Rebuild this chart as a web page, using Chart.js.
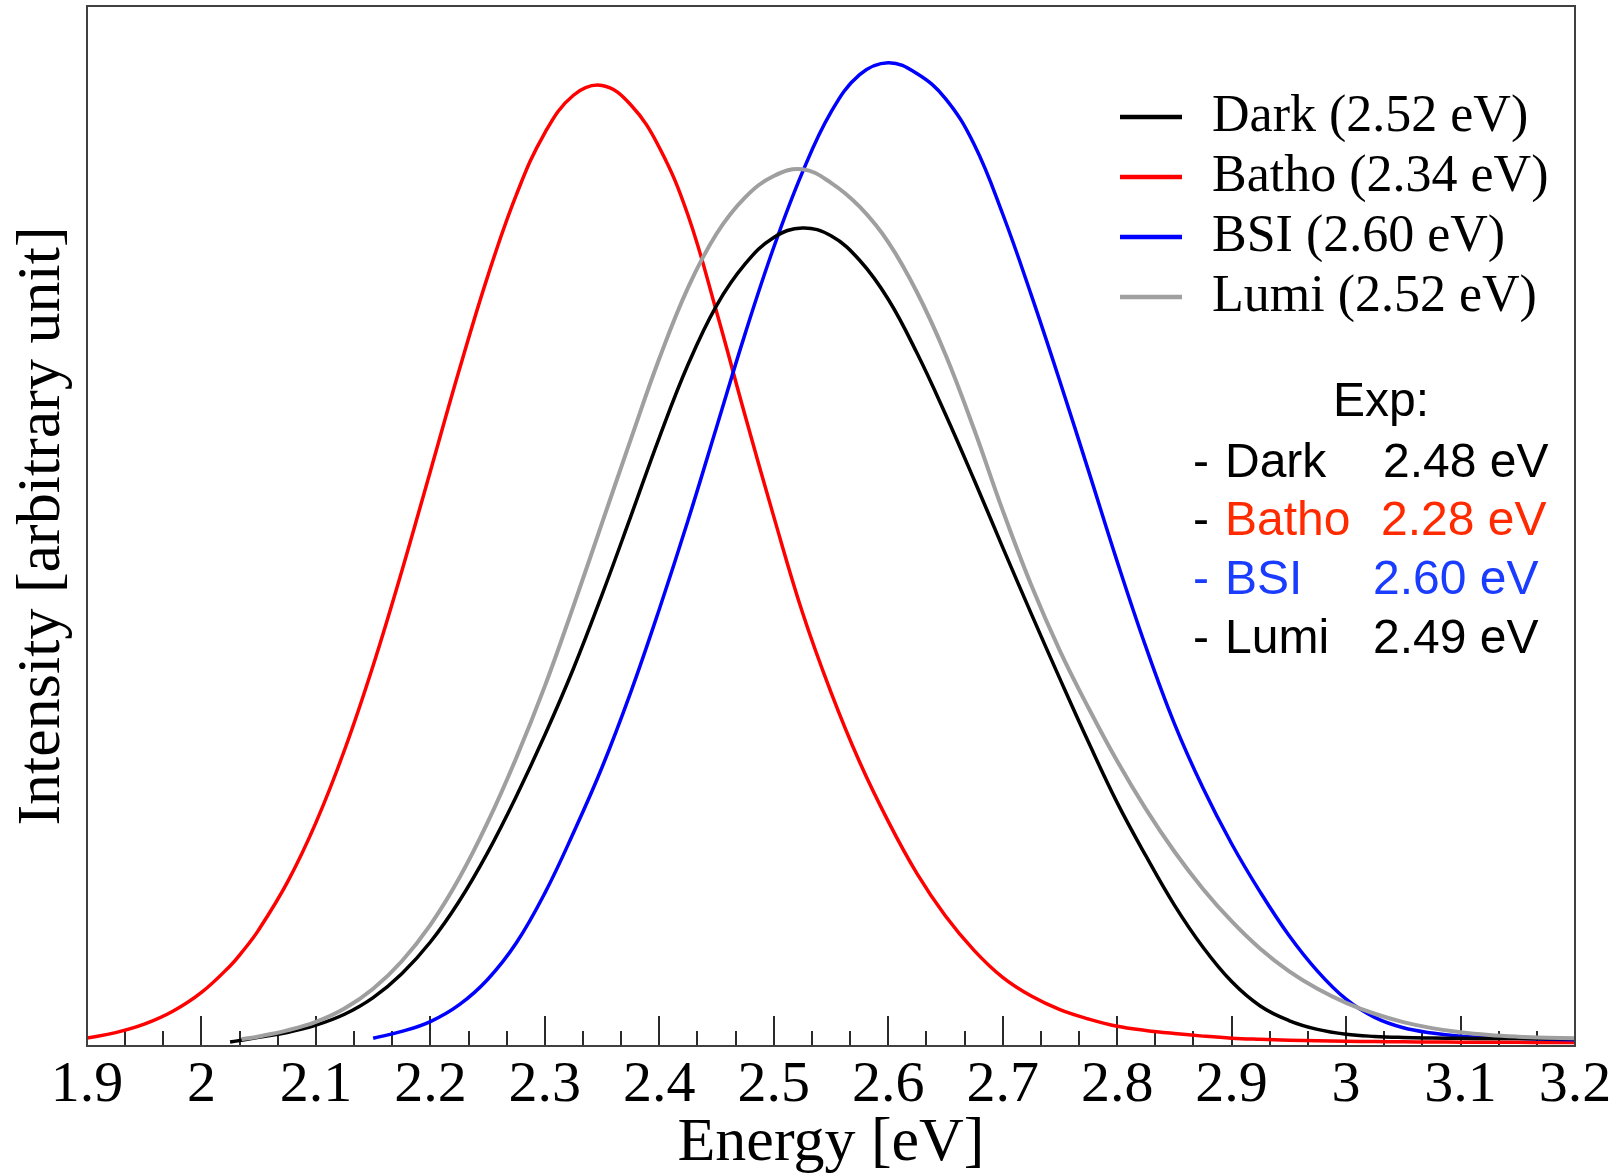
<!DOCTYPE html>
<html>
<head>
<meta charset="utf-8">
<script src="https://cdn.jsdelivr.net/npm/chart.js@4/dist/chart.umd.min.js"></script>
<style>
  html, body { margin: 0; padding: 0; background: #ffffff; }
  #c { display: block; }
</style>
</head>
<body>
<canvas id="c" width="1624" height="1175"></canvas>
<script>
// Photon energy grid (eV) shared by all four spectra
const energy = [
  1.900, 1.925, 1.950, 1.975, 2.000, 2.025, 2.035, 2.050, 2.075, 2.100,
  2.125, 2.150, 2.175, 2.200, 2.225, 2.250, 2.275, 2.300, 2.325, 2.350,
  2.375, 2.400, 2.425, 2.450, 2.475, 2.500, 2.525, 2.550, 2.575, 2.600,
  2.625, 2.650, 2.675, 2.700, 2.725, 2.750, 2.775, 2.800, 2.825, 2.850,
  2.875, 2.900, 2.925, 2.950, 2.975, 3.000, 3.025, 3.050, 3.075, 3.100,
  3.125, 3.150, 3.175, 3.200
];

// Simulated absorption intensities (arbitrary units); null = outside computed range
const dark = [
  null,   null,   null,   null,   null,   0.0038, 0.0056, 0.0085, 0.0130, 0.0200,
  0.0305, 0.0465, 0.0695, 0.1000, 0.1390, 0.1860, 0.2400, 0.2990, 0.3630, 0.4340,
  0.5090, 0.5850, 0.6550, 0.7120, 0.7520, 0.7775, 0.7865, 0.7790, 0.7555, 0.7180,
  0.6665, 0.6075, 0.5445, 0.4795, 0.4155, 0.3530, 0.2920, 0.2340, 0.1830, 0.1355,
  0.0950, 0.0620, 0.0385, 0.0245, 0.0160, 0.0113, 0.0092, 0.0082, 0.0077, 0.0074,
  0.0072, 0.0071, 0.0070, 0.0070
];

const batho = [
  0.0076, 0.0129, 0.0210, 0.0334, 0.0515, 0.0770, 0.0897, 0.1117, 0.1573, 0.2148,
  0.2846, 0.3659, 0.4565, 0.5527, 0.6492, 0.7398, 0.8182, 0.8781, 0.9142, 0.9236,
  0.9050, 0.8640, 0.7990, 0.7060, 0.6060, 0.5090, 0.4170, 0.3400, 0.2730, 0.2160,
  0.1660, 0.1250, 0.0920, 0.0660, 0.0480, 0.0350, 0.0260, 0.0190, 0.0150, 0.0120,
  0.0095, 0.0075, 0.0064, 0.0056, 0.0050, 0.0046, 0.0043, 0.0040, 0.0038, 0.0037,
  0.0036, 0.0035, 0.0034, 0.0034
];

const bsi = [
  null,   null,   null,   null,   null,   null,   null,   null,   null,   null,
  null,   0.0075, 0.0140, 0.0235, 0.0395, 0.0640, 0.0990, 0.1470, 0.2050, 0.2680,
  0.3400, 0.4200, 0.5050, 0.5950, 0.6850, 0.7680, 0.8400, 0.8980, 0.9340, 0.9455,
  0.9350, 0.9110, 0.8670, 0.8000, 0.7220, 0.6390, 0.5530, 0.4660, 0.3840, 0.3100,
  0.2480, 0.1945, 0.1480, 0.1065, 0.0720, 0.0450, 0.0275, 0.0175, 0.0125, 0.0095,
  0.0082, 0.0074, 0.0066, 0.0060
];

const lumi = [
  null,   null,   null,   null,   null,   null,   0.0065, 0.0092, 0.0150, 0.0232,
  0.0360, 0.0550, 0.0815, 0.1165, 0.1610, 0.2150, 0.2770, 0.3460, 0.4230, 0.5030,
  0.5830, 0.6610, 0.7290, 0.7810, 0.8160, 0.8365, 0.8430, 0.8300, 0.8070, 0.7730,
  0.7250, 0.6650, 0.5930, 0.5150, 0.4430, 0.3800, 0.3250, 0.2740, 0.2280, 0.1870,
  0.1510, 0.1200, 0.0935, 0.0720, 0.0550, 0.0415, 0.0310, 0.0230, 0.0172, 0.0132,
  0.0106, 0.0090, 0.0080, 0.0074
];

// Series names, computed peak positions and experimental values (eV)
const seriesNames = ['Dark', 'Batho', 'BSI', 'Lumi'];
const peakEnergy = ['2.52', '2.34', '2.60', '2.52'];
const expEnergy = ['2.48', '2.28', '2.60', '2.49'];

const SERIF = '"Liberation Serif", "Times New Roman", serif';
const SANS = '"Liberation Sans", Arial, sans-serif';

function toPoints(values) {
  const pts = [];
  values.forEach((v, i) => { if (v !== null) pts.push({ x: energy[i], y: v }); });
  return pts;
}

const styles = [
  { color: '#000000', key: '#000000', width: 3.5, order: 1 },
  { color: '#ff0000', key: '#ff0000', width: 3.5, order: 3 },
  { color: '#0000ff', key: '#0000ff', width: 3.5, order: 2 },
  { color: '#9f9f9f', key: '#a0a0a0', width: 4,   order: 0 }
];
const seriesValues = [dark, batho, bsi, lumi];

const datasets = seriesNames.map((name, i) => ({
  label: name + ' (' + peakEnergy[i] + ' eV)',
  data: toPoints(seriesValues[i]),
  borderColor: styles[i].color,
  keyColor: styles[i].key,
  borderWidth: styles[i].width,
  order: styles[i].order,
  fill: false,
  pointRadius: 0,
  tension: 0.4
}));

// Plot frame plus inward tick marks (major every 0.1 eV, two minors between)
const frameTicks = {
  id: 'frameTicks',
  beforeDatasetsDraw(chart) {
    const { ctx, chartArea: a, scales: { x } } = chart;
    ctx.save();
    ctx.strokeStyle = '#2a2a2a';
    ctx.lineWidth = 2;
    const n = Math.round((x.max - x.min) * 30);
    for (let k = 1; k < n; k++) {
      const px = Math.round(x.getPixelForValue(x.min + k / 30));
      const len = (k % 3 === 0) ? 30 : 15;
      ctx.beginPath();
      ctx.moveTo(px, a.bottom);
      ctx.lineTo(px, a.bottom - len);
      ctx.stroke();
    }
    ctx.restore();
  },
  afterDatasetsDraw(chart) {
    const { ctx, chartArea: a } = chart;
    ctx.save();
    ctx.strokeStyle = '#404040';
    ctx.lineWidth = 2;
    ctx.strokeRect(a.left, a.top, a.right - a.left, a.bottom - a.top);
    ctx.restore();
  }
};

// Series key and the experimental reference values
const keyAndNotes = {
  id: 'keyAndNotes',
  afterDraw(chart) {
    const ctx = chart.ctx;
    ctx.save();
    ctx.textBaseline = 'alphabetic';
    chart.data.datasets.forEach((ds, i) => {
      const y = 117 + i * 60;
      ctx.strokeStyle = ds.keyColor;
      ctx.lineWidth = 4.5;
      ctx.beginPath();
      ctx.moveTo(1120, y);
      ctx.lineTo(1182, y);
      ctx.stroke();
      ctx.fillStyle = '#000000';
      ctx.font = '52px ' + SERIF;
      ctx.fillText(ds.label, 1212, y + 14);
    });

    ctx.font = '48px ' + SANS;
    ctx.fillStyle = '#000000';
    ctx.fillText('Exp:', 1333, 416);
    const textColors = ['#000000', '#ff2a00', '#1a3cff', '#000000'];
    const dashColors = ['#000000', '#000000', '#1a3cff', '#000000'];
    const valueX = [1383, 1381, 1373, 1373];
    const rowY = [477, 535, 594, 653];
    seriesNames.forEach((name, i) => {
      ctx.fillStyle = dashColors[i];
      ctx.fillText('-', 1193, rowY[i]);
      ctx.fillStyle = textColors[i];
      ctx.fillText(name, 1225, rowY[i]);
      ctx.fillText(expEnergy[i] + ' eV', valueX[i], rowY[i]);
    });
    ctx.restore();
  }
};

new Chart(document.getElementById('c'), {
  type: 'line',
  data: { datasets },
  plugins: [frameTicks, keyAndNotes],
  options: {
    responsive: false,
    animation: false,
    devicePixelRatio: 1,
    layout: { padding: { top: 6, right: 49, left: 0, bottom: 0 } },
    plugins: { legend: { display: false }, tooltip: { enabled: false } },
    elements: { point: { radius: 0 } },
    scales: {
      x: {
        type: 'linear',
        min: 1.9,
        max: 3.2,
        grid: { display: false, drawTicks: false },
        border: { display: false },
        ticks: {
          stepSize: 0.1,
          autoSkip: false,
          maxRotation: 0,
          padding: 11,
          color: '#000000',
          font: { family: SERIF, size: 58, lineHeight: 1 },
          callback: (v) => {
            const r = Math.round(v * 10) / 10;
            return Number.isInteger(r) ? String(r) : r.toFixed(1);
          }
        },
        title: {
          display: true,
          text: 'Energy [eV]',
          color: '#000000',
          font: { family: SERIF, size: 62, lineHeight: 1 },
          padding: { top: 0, bottom: 0 }
        },
        afterFit: (s) => { s.height = 129; }
      },
      y: {
        min: 0,
        max: 1,
        grid: { display: false, drawTicks: false },
        border: { display: false },
        ticks: { display: false },
        title: {
          display: true,
          text: 'Intensity [arbitrary unit]',
          color: '#000000',
          font: { family: SERIF, size: 62, lineHeight: 1 },
          padding: { top: 12, bottom: 0 }
        },
        afterFit: (s) => { s.width = 87; }
      }
    }
  }
});
</script>
</body>
</html>
